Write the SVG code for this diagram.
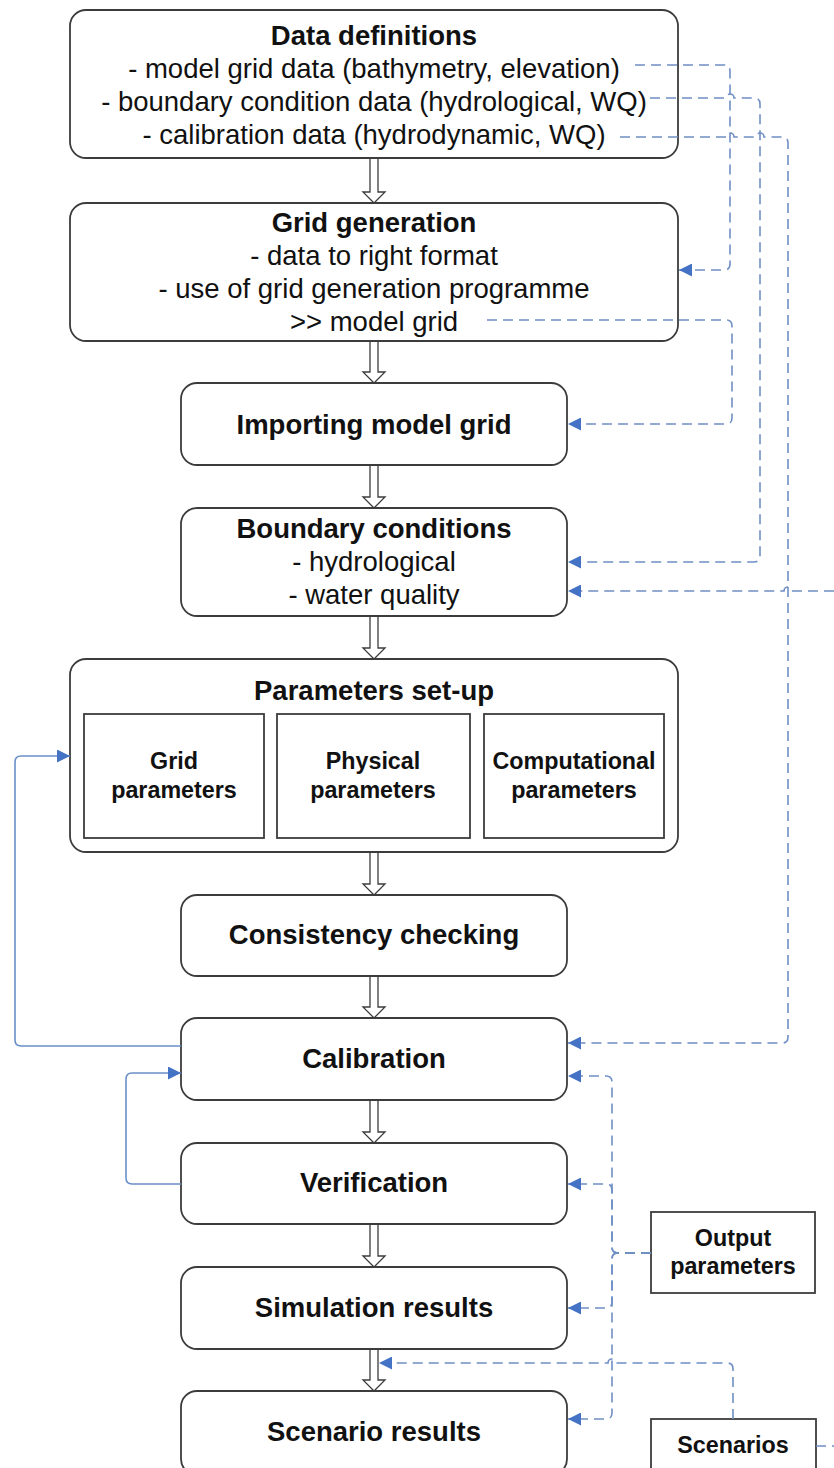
<svg xmlns="http://www.w3.org/2000/svg" width="834" height="1468" viewBox="0 0 834 1468">
<defs>
<style>
.box{fill:#fff;stroke:#3c3c3c;stroke-width:1.8}
.t{font-family:"Liberation Sans",Arial,sans-serif;font-size:27.5px;fill:#111;text-anchor:middle}
.b{font-weight:bold}
.s{font-family:"Liberation Sans",Arial,sans-serif;font-size:23.3px;font-weight:bold;fill:#111;text-anchor:middle}
.dash{fill:none;stroke:#6f8fc4;stroke-width:1.6;stroke-dasharray:10 6}
.solid{fill:none;stroke:#6a8fc8;stroke-width:1.6}
.blk{fill:#fff;stroke:#3c3c3c;stroke-width:1.3}
</style>
<marker id="ah" viewBox="0 0 10 10" refX="10" refY="5" markerWidth="14" markerHeight="13" markerUnits="userSpaceOnUse" orient="auto">
<path d="M0,0 L10,5 L0,10 Z" fill="#4472c4"/>
</marker>
</defs>
<rect width="834" height="1468" fill="#fff"/>

<g id="block-arrows">
<path class="blk" d="M370,158 V192 H363 L374,203 L385,192 H378 V158"/>
<path class="blk" d="M370,341 V372 H363 L374,383 L385,372 H378 V341"/>
<path class="blk" d="M370,465 V497 H363 L374,508 L385,497 H378 V465"/>
<path class="blk" d="M370,616 V648 H363 L374,659 L385,648 H378 V616"/>
<path class="blk" d="M370,852 V884 H363 L374,895 L385,884 H378 V852"/>
<path class="blk" d="M370,976 V1007 H363 L374,1018 L385,1007 H378 V976"/>
<path class="blk" d="M370,1100 V1132 H363 L374,1143 L385,1132 H378 V1100"/>
<path class="blk" d="M370,1224 V1256 H363 L374,1267 L385,1256 H378 V1224"/>
<path class="blk" d="M370,1349 V1380 H363 L374,1391 L385,1380 H378 V1349"/>
</g>

<g id="n-data-definitions">
<rect class="box" x="70" y="10" width="608" height="148" rx="16"/>
<text class="t b" x="374" y="45">Data definitions</text>
<text class="t" x="374" y="78">- model grid data (bathymetry, elevation)</text>
<text class="t" x="374" y="111">- boundary condition data (hydrological, WQ)</text>
<text class="t" x="374" y="144">- calibration data (hydrodynamic, WQ)</text>
</g>
<g id="n-grid-generation">
<rect class="box" x="70" y="203" width="608" height="138" rx="16"/>
<text class="t b" x="374" y="232">Grid generation</text>
<text class="t" x="374" y="265">- data to right format</text>
<text class="t" x="374" y="298">- use of grid generation programme</text>
<text class="t" x="374" y="331">&gt;&gt; model grid</text>
</g>
<g id="n-importing">
<rect class="box" x="181" y="383" width="386" height="82" rx="16"/>
<text class="t b" x="374" y="434">Importing model grid</text>
</g>
<g id="n-boundary">
<rect class="box" x="181" y="508" width="386" height="108" rx="16"/>
<text class="t b" x="374" y="538">Boundary conditions</text>
<text class="t" x="374" y="571">- hydrological</text>
<text class="t" x="374" y="604">- water quality</text>
</g>
<g id="n-parameters">
<rect class="box" x="70" y="659" width="608" height="193" rx="16"/>
<text class="t b" x="374" y="700">Parameters set-up</text>
<rect class="box" x="84" y="714" width="180" height="124"/>
<text class="s" x="174" y="769">Grid</text>
<text class="s" x="174" y="798">parameters</text>
<rect class="box" x="277" y="714" width="193" height="124"/>
<text class="s" x="373" y="769">Physical</text>
<text class="s" x="373" y="798">parameters</text>
<rect class="box" x="484" y="714" width="180" height="124"/>
<text class="s" x="574" y="769">Computational</text>
<text class="s" x="574" y="798">parameters</text>
</g>
<g id="n-consistency">
<rect class="box" x="181" y="895" width="386" height="81" rx="16"/>
<text class="t b" x="374" y="944">Consistency checking</text>
</g>
<g id="n-calibration">
<rect class="box" x="181" y="1018" width="386" height="82" rx="16"/>
<text class="t b" x="374" y="1068">Calibration</text>
</g>
<g id="n-verification">
<rect class="box" x="181" y="1143" width="386" height="81" rx="16"/>
<text class="t b" x="374" y="1192">Verification</text>
</g>
<g id="n-simulation">
<rect class="box" x="181" y="1267" width="386" height="82" rx="16"/>
<text class="t b" x="374" y="1317">Simulation results</text>
</g>
<g id="n-scenario-results">
<rect class="box" x="181" y="1391" width="386" height="84" rx="16"/>
<text class="t b" x="374" y="1441">Scenario results</text>
</g>
<g id="n-output-parameters">
<rect class="box" x="651" y="1212" width="164" height="81"/>
<text class="s" x="733" y="1246">Output</text>
<text class="s" x="733" y="1274">parameters</text>
</g>
<g id="n-scenarios">
<rect class="box" x="651" y="1419" width="165" height="60"/>
<text class="s" x="733" y="1453">Scenarios</text>
</g>

<g id="connectors">
<path class="dash" marker-end="url(#ah)" d="M635,65 H724 Q730,65 730,71 V264 Q730,270 724,270 H679"/>
<path class="dash" marker-end="url(#ah)" d="M650,98 H726 A4,4 0 0 1 734,98 H754 Q760,98 760,104 V556 Q760,562 754,562 H568"/>
<path class="dash" marker-end="url(#ah)" d="M620,137 H726 A4,4 0 0 1 734,137 H756 A4,4 0 0 1 764,137 H782 Q788,137 788,143 V1037 Q788,1043 782,1043 H568"/>
<path class="dash" marker-end="url(#ah)" d="M487,320 H726 Q732,320 732,326 V418 Q732,424 726,424 H568"/>
<path class="dash" marker-end="url(#ah)" d="M834,591 H792 A4,4 0 0 0 784,591 H568"/>
<path class="dash" d="M816,1446 H834"/>
<path class="dash" marker-end="url(#ah)" d="M651,1253 H618 Q612,1253 612,1247 V1082 Q612,1076 606,1076 H568"/>
<path class="dash" marker-end="url(#ah)" d="M651,1253 H618 Q612,1253 612,1247 V1190 Q612,1184 606,1184 H568"/>
<path class="dash" marker-end="url(#ah)" d="M651,1253 H618 Q612,1253 612,1259 V1302 Q612,1308 606,1308 H568"/>
<path class="dash" marker-end="url(#ah)" d="M651,1253 H618 Q612,1253 612,1259 V1413 Q612,1419 606,1419 H568"/>
<path class="dash" marker-end="url(#ah)" d="M733,1419 V1369 Q733,1363 727,1363 H616 A4,4 0 0 0 608,1363 H379"/>
<path class="solid" marker-end="url(#ah)" d="M181,1046 H21 Q15,1046 15,1040 V762 Q15,756 21,756 H70"/>
<path class="solid" marker-end="url(#ah)" d="M181,1184 H132 Q126,1184 126,1178 V1079 Q126,1073 132,1073 H181"/>
</g>
</svg>
